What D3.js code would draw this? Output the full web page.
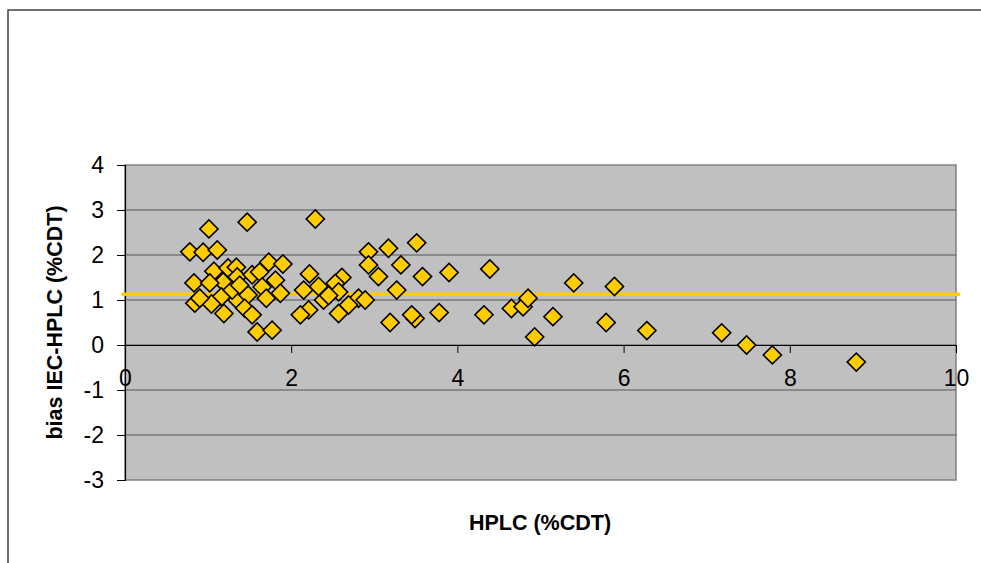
<!DOCTYPE html>
<html>
<head>
<meta charset="utf-8">
<script src="https://cdn.jsdelivr.net/npm/d3@7"></script>
<style>
  body { margin: 0; background: #fff; }
  svg { display: block; font-family: Arial, "Liberation Sans", sans-serif; }
</style>
</head>
<body>
<div id="chart"></div>
<script>
        // HPLC value (%CDT) of each sample
        const hplc = [
            0.78, 0.94, 1.11, 1.01, 1.47, 0.83, 1.07, 1.24, 1.34, 1.18,
            1.35, 1.53, 1.62, 1.73, 1.90, 1.81, 1.02, 1.65, 1.16, 1.04,
            0.84, 0.90, 1.19, 1.35, 1.48, 1.44, 1.53, 1.59, 1.77, 1.87,
            1.70, 1.29, 1.38,
            2.29, 2.22, 2.61, 2.33, 2.53, 2.15, 2.39, 2.57, 2.81, 2.69,
            2.57, 2.21, 2.11, 2.45,
            3.51, 3.17, 2.93, 2.93, 3.32, 3.05, 3.58, 3.90, 3.27, 2.89,
            3.19, 3.49, 3.45, 3.78,
            4.39, 5.40, 5.89, 4.32, 4.65, 4.79, 4.85, 4.93, 5.15, 5.79,
            6.28, 7.18, 7.48, 7.79, 8.80
        ];
        // bias IEC - HPLC (%CDT) of each sample
        const bias = [
            2.07, 2.06, 2.11, 2.58, 2.73, 1.38, 1.64, 1.71, 1.73, 1.40,
            1.51, 1.56, 1.62, 1.84, 1.80, 1.44, 1.38, 1.29, 1.07, 0.91,
            0.93, 1.04, 0.70, 1.00, 1.11, 0.82, 0.67, 0.29, 0.33, 1.15,
            1.04, 1.22, 1.33,
            2.80, 1.58, 1.50, 1.30, 1.37, 1.22, 1.00, 1.18, 1.04, 0.89,
            0.70, 0.78, 0.67, 1.10,
            2.27, 2.15, 2.07, 1.78, 1.78, 1.52, 1.52, 1.61, 1.22, 1.00,
            0.50, 0.59, 0.67, 0.72,
            1.69, 1.38, 1.30, 0.67, 0.81, 0.85, 1.04, 0.18, 0.63, 0.50,
            0.32, 0.27, 0.00, -0.22, -0.38
        ];
        const meanBias = 1.13;

        const xTicks = [0, 2, 4, 6, 8, 10];
        const yTicks = [-3, -2, -1, 0, 1, 2, 3, 4];
        const xTitle = "HPLC (%CDT)";
        const yTitle = "bias IEC-HPLC (%CDT)";

        const W = 981, H = 563;
        const plot = { left: 125, right: 956, top: 165, bottom: 480 };
        const tickFont = 23;

        const svg = d3.select("#chart").append("svg")
            .attr("width", W).attr("height", H);

        // outer chart frame (right/bottom edges fall outside the window)
        svg.append("rect")
            .attr("x", 8).attr("y", 10)
            .attr("width", W + 20).attr("height", H + 20)
            .attr("fill", "#fff").attr("stroke", "#404040").attr("stroke-width", 1.5);

        const x = d3.scaleLinear().domain([0, 10]).range([plot.left, plot.right]);
        const y = d3.scaleLinear().domain([-3, 4]).range([plot.bottom, plot.top]);

        // plot area
        svg.append("rect")
            .attr("x", plot.left).attr("y", plot.top)
            .attr("width", plot.right - plot.left).attr("height", plot.bottom - plot.top)
            .attr("fill", "#c0c0c0").attr("stroke", "#808080").attr("stroke-width", 1.5);

        // horizontal gridlines
        svg.append("g").selectAll("line")
            .data(yTicks.filter(d => d > -3 && d < 4))
            .enter().append("line")
            .attr("x1", plot.left).attr("x2", plot.right)
            .attr("y1", d => y(d)).attr("y2", d => y(d))
            .attr("stroke", "#555").attr("stroke-width", 1.2);

        // y axis
        const yAxis = svg.append("g")
            .attr("transform", `translate(${plot.left},0)`)
            .call(d3.axisLeft(y).tickValues(yTicks).tickSize(8).tickPadding(13).tickFormat(d => String(d)));
        yAxis.attr("font-size", tickFont).attr("font-family", "Arial, 'Liberation Sans', sans-serif");
        yAxis.select(".domain").attr("stroke", "#000").attr("stroke-width", 1.2);
        yAxis.selectAll(".tick line").attr("stroke", "#000");
        yAxis.selectAll(".tick text").attr("fill", "#000");

        // x axis sits on y = 0
        const xAxis = svg.append("g")
            .attr("transform", `translate(0,${y(0)})`)
            .call(d3.axisBottom(x).tickValues(xTicks).tickSize(8).tickSizeOuter(0).tickPadding(17).tickFormat(d => String(d)));
        xAxis.attr("font-size", tickFont).attr("font-family", "Arial, 'Liberation Sans', sans-serif");
        xAxis.select(".domain").attr("stroke", "#000").attr("stroke-width", 1.2);
        xAxis.selectAll(".tick line").attr("stroke", "#000");
        xAxis.selectAll(".tick text").attr("fill", "#000");

        // mean bias line
        svg.append("line")
            .attr("x1", x(-0.04)).attr("x2", x(10.05))
            .attr("y1", y(meanBias)).attr("y2", y(meanBias))
            .attr("stroke", "#ffcc00").attr("stroke-width", 3.5);

        // diamonds
        const diamond = d3.symbol().type(d3.symbolSquare).size(165);
        svg.append("g").selectAll("path")
            .data(hplc.map((h, i) => ({ h, b: bias[i] })))
            .enter().append("path")
            .attr("d", diamond)
            .attr("transform", d => `translate(${x(d.h)},${y(d.b)}) rotate(45)`)
            .attr("fill", "#ffcc00").attr("stroke", "#000").attr("stroke-width", 1.6);

        // axis titles
        svg.append("text")
            .attr("x", 540).attr("y", 530)
            .attr("text-anchor", "middle")
            .attr("font-size", 21.5).attr("font-weight", "bold")
            .text(xTitle);

        svg.append("text")
            .attr("transform", `translate(62,${(plot.top + plot.bottom) / 2}) rotate(-90)`)
            .attr("text-anchor", "middle")
            .attr("font-size", 21.5).attr("font-weight", "bold")
            .text(yTitle);
</script>
</body>
</html>
